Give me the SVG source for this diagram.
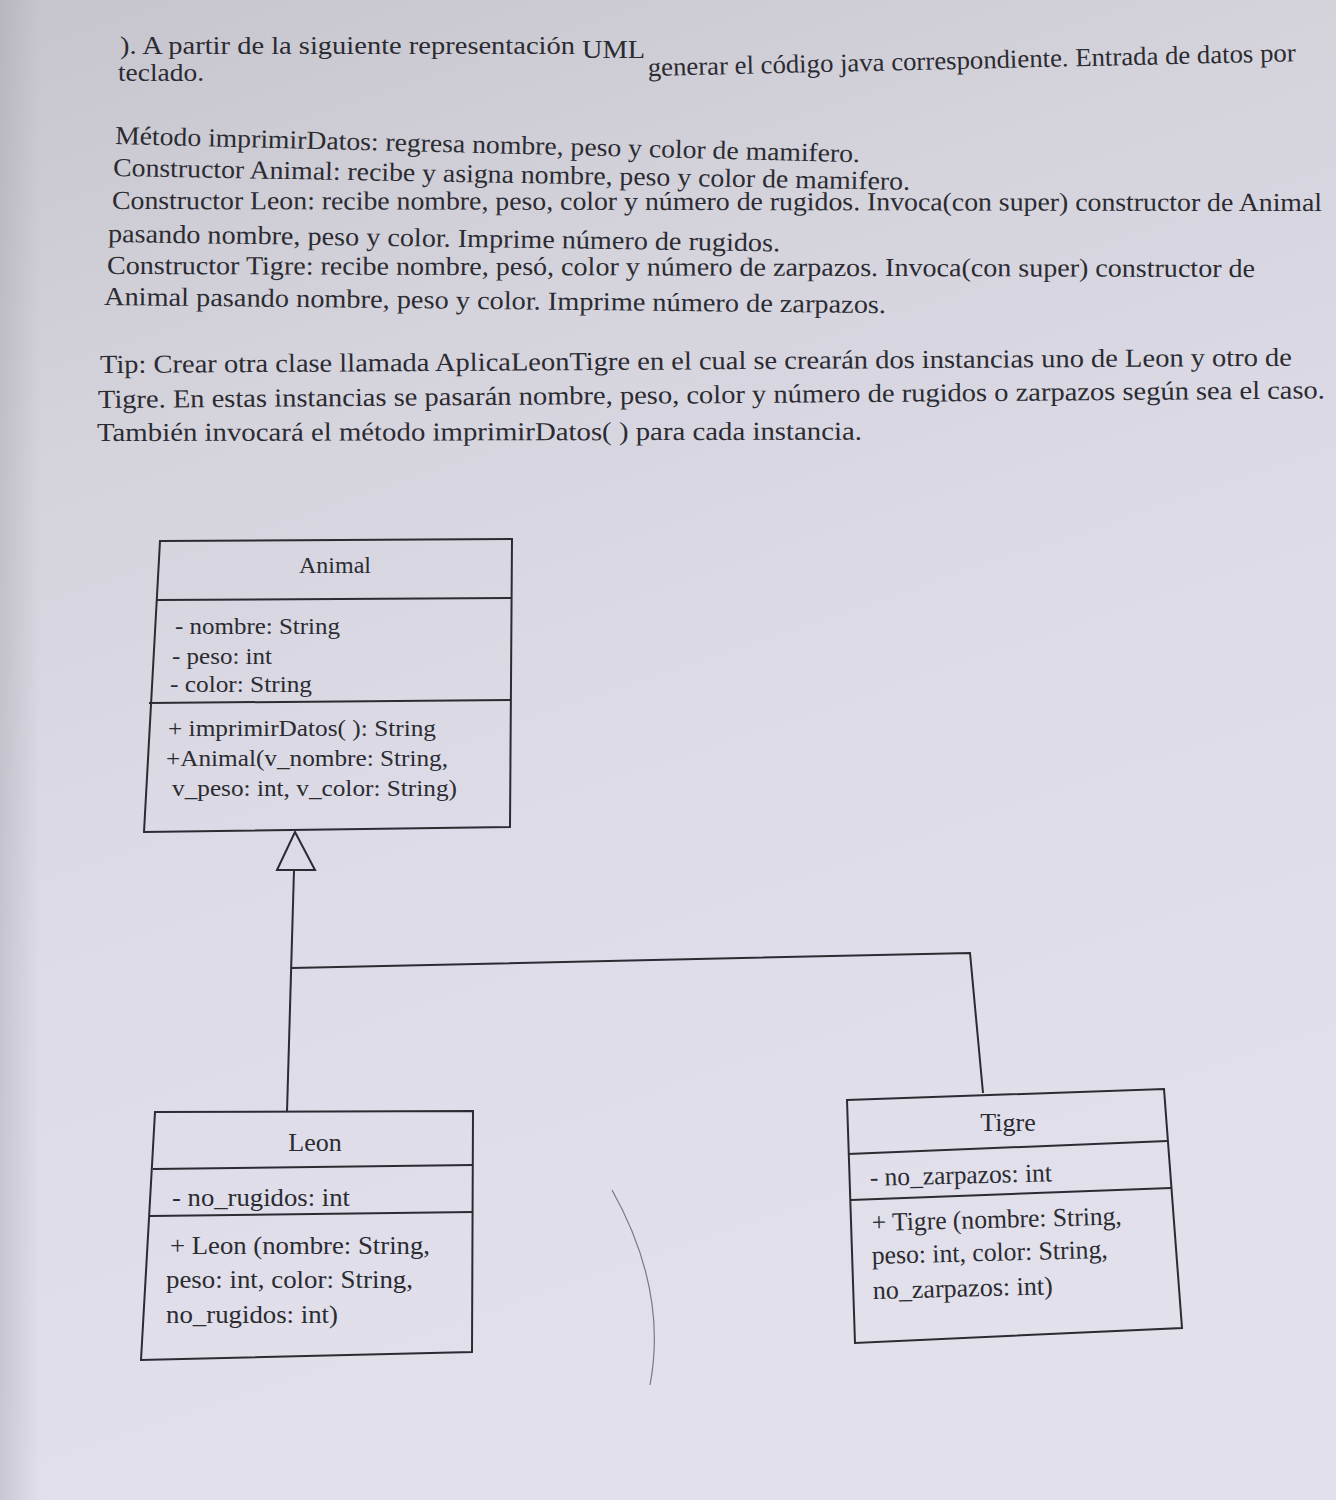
<svg xmlns="http://www.w3.org/2000/svg" width="1336" height="1500" viewBox="0 0 1336 1500">
<defs>
<linearGradient id="bg" x1="0" y1="0" x2="0.3" y2="1">
<stop offset="0" stop-color="#c6c5cd"/>
<stop offset="0.3" stop-color="#d5d4dd"/>
<stop offset="0.6" stop-color="#dcdbe7"/>
<stop offset="1" stop-color="#e1e0eb"/>
</linearGradient>
<linearGradient id="lshade" x1="0" y1="0" x2="1" y2="0">
<stop offset="0" stop-color="#9c9ba3" stop-opacity="0.35"/>
<stop offset="1" stop-color="#9c9ba3" stop-opacity="0"/>
</linearGradient>
</defs>
<style>
.t{font-family:"Liberation Serif","Times New Roman",serif;font-size:26px;fill:#2b2b31}
.b{font-family:"Liberation Serif","Times New Roman",serif;font-size:24px;fill:#2b2b31}
.bl{font-family:"Liberation Serif","Times New Roman",serif;font-size:26px;fill:#2b2b31}
.box{fill:none;stroke:#2b2b31;stroke-width:2}
.ln{fill:none;stroke:#2b2b31;stroke-width:2}
</style>
<rect x="0" y="0" width="1336" height="1500" fill="url(#bg)"/>
<rect x="0" y="0" width="40" height="1500" fill="url(#lshade)"/>

<g id="instructions">
<text class="t" x="120" y="54" textLength="455" lengthAdjust="spacingAndGlyphs">). A partir de la siguiente representación</text>
<text class="t" x="582" y="58" font-size="29" textLength="63" lengthAdjust="spacingAndGlyphs">UML</text>
<text class="t" x="648" y="76" font-size="23" textLength="648" lengthAdjust="spacingAndGlyphs" transform="rotate(-1.3 648 76)">generar el código java correspondiente. Entrada de datos por</text>
<text class="t" x="118" y="81" font-size="23" textLength="86" lengthAdjust="spacingAndGlyphs">teclado.</text>
<text class="t" x="115" y="144" textLength="745" lengthAdjust="spacingAndGlyphs" transform="rotate(1.4 115 144)">Método imprimirDatos: regresa nombre, peso y color de mamifero.</text>
<text class="t" x="113" y="176" textLength="797" lengthAdjust="spacingAndGlyphs" transform="rotate(1.0 113 176)">Constructor Animal: recibe y asigna nombre, peso y color de mamifero.</text>
<text class="t" x="112" y="209" textLength="1210" lengthAdjust="spacingAndGlyphs" transform="rotate(0.1 112 209)">Constructor Leon: recibe nombre, peso, color y número de rugidos. Invoca(con super) constructor de Animal</text>
<text class="t" x="108" y="242" textLength="672" lengthAdjust="spacingAndGlyphs" transform="rotate(0.8 108 242)">pasando nombre, peso y color. Imprime número de rugidos.</text>
<text class="t" x="107" y="274" textLength="1148" lengthAdjust="spacingAndGlyphs" transform="rotate(0.15 107 274)">Constructor Tigre: recibe nombre, pesó, color y número de zarpazos. Invoca(con super) constructor de</text>
<text class="t" x="104" y="305" textLength="782" lengthAdjust="spacingAndGlyphs" transform="rotate(0.6 104 305)">Animal pasando nombre, peso y color. Imprime número de zarpazos.</text>
<text class="t" x="100" y="373" textLength="1192" lengthAdjust="spacingAndGlyphs" transform="rotate(-0.35 100 373)">Tip: Crear otra clase llamada AplicaLeonTigre en el cual se crearán dos instancias uno de Leon y otro de</text>
<text class="t" x="98" y="408" textLength="1227" lengthAdjust="spacingAndGlyphs" transform="rotate(-0.45 98 408)">Tigre. En estas instancias se pasarán nombre, peso, color y número de rugidos o zarpazos según sea el caso.</text>
<text class="t" x="97" y="441" textLength="765" lengthAdjust="spacingAndGlyphs" transform="rotate(-0.1 97 441)">También invocará el método imprimirDatos( ) para cada instancia.</text>
</g>

<g id="connectors">
<polygon class="ln" points="295,832 277,870 315,870"/>
<polyline class="ln" points="294,870 287,1112"/>
<polyline class="ln" points="292,968 970,953 983,1093"/>
</g>

<g id="Animal">
<polygon class="box" points="160,541 512,539 510,827 144,832"/>
<line class="ln" x1="157" y1="600" x2="512" y2="598"/>
<line class="ln" x1="149" y1="703" x2="511" y2="700"/>
<text class="b" x="335" y="573" text-anchor="middle">Animal</text>
<text class="b" x="175" y="634" textLength="165" lengthAdjust="spacingAndGlyphs">- nombre: String</text>
<text class="b" x="172" y="664" textLength="100" lengthAdjust="spacingAndGlyphs">- peso: int</text>
<text class="b" x="170" y="692" textLength="142" lengthAdjust="spacingAndGlyphs">- color: String</text>
<text class="b" x="168" y="736" textLength="268" lengthAdjust="spacingAndGlyphs">+ imprimirDatos( ): String</text>
<text class="b" x="166" y="766" textLength="282" lengthAdjust="spacingAndGlyphs">+Animal(v_nombre: String,</text>
<text class="b" x="172" y="796" textLength="285" lengthAdjust="spacingAndGlyphs">v_peso: int, v_color: String)</text>
</g>

<g id="Leon">
<polygon class="box" points="155,1112 473,1111 472,1352 141,1360"/>
<line class="ln" x1="153" y1="1169" x2="473" y2="1165"/>
<line class="ln" x1="150" y1="1216" x2="473" y2="1212"/>
<text class="bl" x="315" y="1151" text-anchor="middle">Leon</text>
<text class="bl" x="172" y="1206" textLength="178" lengthAdjust="spacingAndGlyphs">- no_rugidos: int</text>
<text class="bl" x="170" y="1254" textLength="260" lengthAdjust="spacingAndGlyphs">+ Leon (nombre: String,</text>
<text class="bl" x="166" y="1288" textLength="247" lengthAdjust="spacingAndGlyphs">peso: int, color: String,</text>
<text class="bl" x="166" y="1323" textLength="172" lengthAdjust="spacingAndGlyphs">no_rugidos: int)</text>
</g>

<g id="Tigre">
<polygon class="box" points="847,1100 1164,1089 1182,1328 855,1343"/>
<line class="ln" x1="848" y1="1154" x2="1167" y2="1141"/>
<line class="ln" x1="851" y1="1200" x2="1171" y2="1188"/>
<text class="bl" x="1008" y="1131" text-anchor="middle">Tigre</text>
<text class="bl" x="870" y="1186" textLength="182" lengthAdjust="spacingAndGlyphs" transform="rotate(-1.5 870 1186)">- no_zarpazos: int</text>
<text class="bl" x="872" y="1231" textLength="250" lengthAdjust="spacingAndGlyphs" transform="rotate(-1.5 872 1231)">+ Tigre (nombre: String,</text>
<text class="bl" x="872" y="1264" textLength="236" lengthAdjust="spacingAndGlyphs" transform="rotate(-1.5 872 1264)">peso: int, color: String,</text>
<text class="bl" x="873" y="1299" textLength="180" lengthAdjust="spacingAndGlyphs" transform="rotate(-1.5 873 1299)">no_zarpazos: int)</text>
</g>

<path d="M612,1190 Q668,1290 650,1385" fill="none" stroke="#7a7980" stroke-width="1.2"/>
</svg>
